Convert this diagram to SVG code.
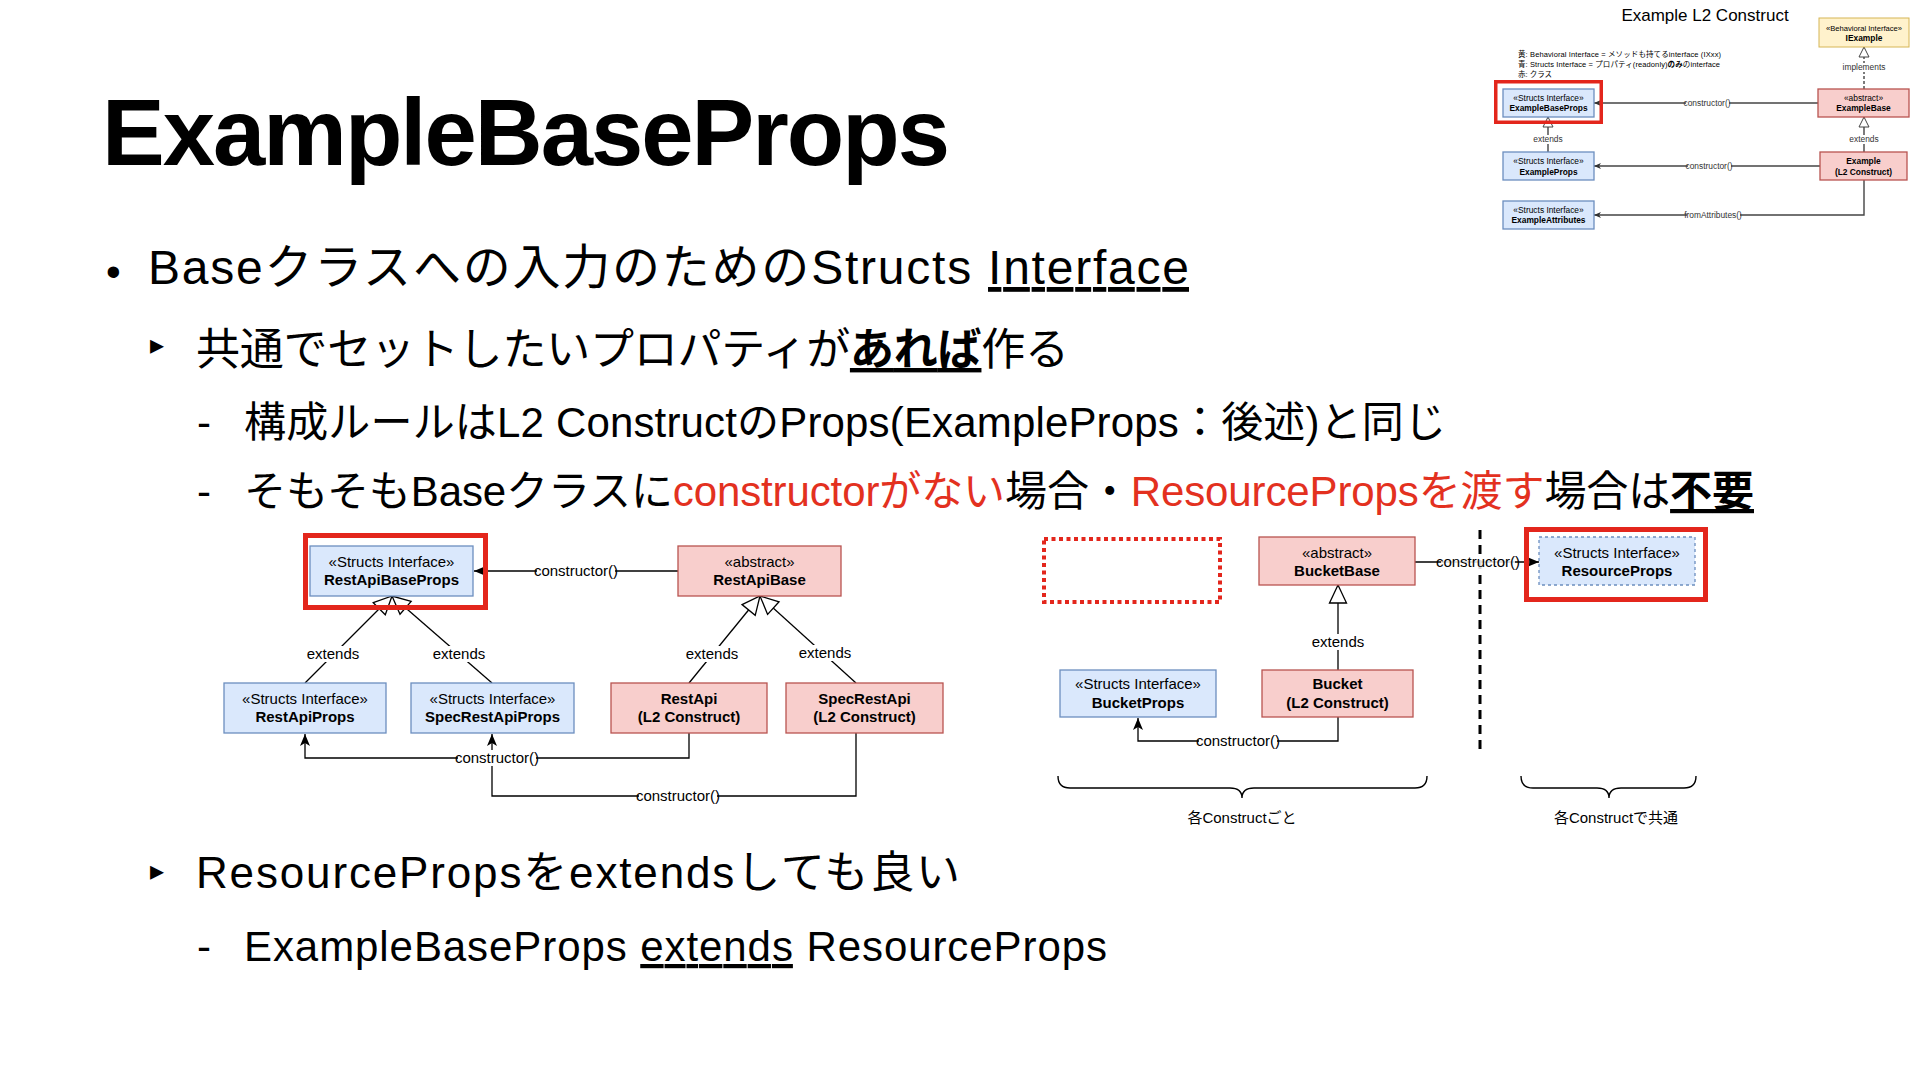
<svg xmlns="http://www.w3.org/2000/svg" width="1920" height="1080" viewBox="0 0 1920 1080">
<style>
text{font-family:"Liberation Sans","Noto Sans CJK JP",sans-serif;fill:#000}
.body{font-size:42px}
.red{fill:#e3311f}
.dg text{font-size:15px;text-anchor:middle}
.dg .b{font-weight:bold}
.blue{fill:#dae8fc;stroke:#6c8ebf;stroke-width:1.3}
.pink{fill:#f8cecc;stroke:#b85450;stroke-width:1.3}
.yel{fill:#fff2cc;stroke:#d6b656;stroke-width:1}
.hl{fill:none;stroke:#e3261c}
.edge{fill:none;stroke:#000;stroke-width:1.3}
.lbl{font-size:14px;text-anchor:middle}
.lblbg{fill:#fff}
.mini text{font-size:8.4px;text-anchor:middle}
.mini .b{font-weight:bold}
.medge{fill:none;stroke:#444;stroke-width:1.4}
.mlbl{font-size:7px;text-anchor:middle;fill:#333}
</style>
<defs>
<marker id="arr" markerUnits="userSpaceOnUse" markerWidth="14" markerHeight="12" refX="12" refY="5" orient="auto" overflow="visible"><path d="M0,0 L12,5 L0,10 L3,5 z" fill="#000"/></marker>
<marker id="tri" markerUnits="userSpaceOnUse" markerWidth="20" markerHeight="20" refX="18" refY="9" orient="auto" overflow="visible"><path d="M0,0.5 L18,9 L0,17.5 z" fill="#fff" stroke="#000" stroke-width="1.3"/></marker>
<marker id="arrM" markerUnits="userSpaceOnUse" markerWidth="8" markerHeight="8" refX="7" refY="3" orient="auto" overflow="visible"><path d="M0,0 L7,3 L0,6 L2,3 z" fill="#333"/></marker>
<marker id="triM" markerUnits="userSpaceOnUse" markerWidth="12" markerHeight="12" refX="10" refY="5" orient="auto" overflow="visible"><path d="M0,0 L10,5 L0,10 z" fill="#fff" stroke="#444" stroke-width="1"/></marker>
</defs>
<rect x="0" y="0" width="1920" height="1080" fill="#fff"/>

<g id="title">
<text x="102" y="165" font-size="94" font-weight="bold" textLength="848" lengthAdjust="spacing">ExampleBaseProps</text>
</g>

<g id="body-text" class="body">
<text x="106" y="286" font-size="42">•</text>
<text x="148" y="284" font-size="48" textLength="1041">Baseクラスへの入力のためのStructs <tspan text-decoration="underline">Interface</tspan></text>
<text x="150" y="354" style="font-family:'DejaVu Sans',sans-serif" font-size="28">▸</text>
<text x="196" y="365" font-size="44" textLength="873">共通でセットしたいプロパティが<tspan font-weight="bold" text-decoration="underline">あれば</tspan>作る</text>
<text x="197" y="437">-</text>
<text x="244" y="437" textLength="1202">構成ルールはL2 ConstructのProps(ExampleProps：後述)と同じ</text>
<text x="197" y="506">-</text>
<text x="244" y="506" textLength="1510">そもそもBaseクラスに<tspan class="red">constructorがない</tspan>場合・<tspan class="red">ResourcePropsを渡す</tspan>場合は<tspan font-weight="bold" text-decoration="underline">不要</tspan></text>
<text x="150" y="880" style="font-family:'DejaVu Sans',sans-serif" font-size="28">▸</text>
<text x="196" y="888" font-size="44" textLength="764">ResourcePropsをextendsしても良い</text>
<text x="197" y="961">-</text>
<text x="244" y="961" textLength="863">ExampleBaseProps <tspan text-decoration="underline">extends</tspan> ResourceProps</text>
</g>

<!-- Left diagram -->
<g id="diagram-left" class="dg">
<g id="connectors-left">
<path class="edge" d="M678,571 H474" marker-end="url(#arr)"/>
<path class="edge" d="M305,683 L392,596" marker-end="url(#tri)"/>
<path class="edge" d="M492,683 L392,596" marker-end="url(#tri)"/>
<path class="edge" d="M689,683 L760,596" marker-end="url(#tri)"/>
<path class="edge" d="M856,683 L760,596" marker-end="url(#tri)"/>
<path class="edge" d="M689,733 V758 H305 V734" marker-end="url(#arr)"/>
<path class="edge" d="M856,733 V796 H492 V734" marker-end="url(#arr)"/>
<rect class="lblbg" x="537" y="563" width="78" height="16"/>
<text class="lbl" x="576" y="576">constructor()</text>
<rect class="lblbg" x="309" y="646" width="49" height="16"/>
<text class="lbl" x="333" y="659">extends</text>
<rect class="lblbg" x="435" y="646" width="49" height="16"/>
<text class="lbl" x="459" y="659">extends</text>
<rect class="lblbg" x="688" y="646" width="49" height="16"/>
<text class="lbl" x="712" y="659">extends</text>
<rect class="lblbg" x="801" y="645" width="49" height="16"/>
<text class="lbl" x="825" y="658">extends</text>
<rect class="lblbg" x="458" y="750" width="78" height="16"/>
<text class="lbl" x="497" y="763">constructor()</text>
<rect class="lblbg" x="639" y="788" width="78" height="16"/>
<text class="lbl" x="678" y="801">constructor()</text>
</g>
<g id="node-restapibaseprops">
<rect class="blue" x="310" y="546" width="163" height="50"/>
<text x="391.5" y="567">«Structs Interface»</text>
<text class="b" x="391.5" y="585">RestApiBaseProps</text>
</g>
<rect id="highlight-restapibaseprops" class="hl" x="305.5" y="535.5" width="180" height="72" stroke-width="5"/>
<g id="node-restapibase">
<rect class="pink" x="678" y="546" width="163" height="50"/>
<text x="759.5" y="567">«abstract»</text>
<text class="b" x="759.5" y="585">RestApiBase</text>
</g>
<g id="node-restapiprops">
<rect class="blue" x="224" y="683" width="162" height="50"/>
<text x="305" y="704">«Structs Interface»</text>
<text class="b" x="305" y="722">RestApiProps</text>
</g>
<g id="node-specrestapiprops">
<rect class="blue" x="411" y="683" width="163" height="50"/>
<text x="492.5" y="704">«Structs Interface»</text>
<text class="b" x="492.5" y="722">SpecRestApiProps</text>
</g>
<g id="node-restapi">
<rect class="pink" x="611" y="683" width="156" height="50"/>
<text class="b" x="689" y="704">RestApi</text>
<text class="b" x="689" y="722">(L2 Construct)</text>
</g>
<g id="node-specrestapi">
<rect class="pink" x="786" y="683" width="157" height="50"/>
<text class="b" x="864.5" y="704">SpecRestApi</text>
<text class="b" x="864.5" y="722">(L2 Construct)</text>
</g>
</g>

<!-- Right diagram -->
<g id="diagram-right" class="dg">
<rect id="placeholder-dotted" x="1044" y="539" width="176" height="63" fill="none" stroke="#e3261c" stroke-width="4" stroke-dasharray="4 3.5"/>
<g id="connectors-right">
<path d="M1480,530 V753" fill="none" stroke="#000" stroke-width="3" stroke-dasharray="9 6"/>
<path class="edge" d="M1415,562 H1539" marker-end="url(#arr)"/>
<path class="edge" d="M1338,670 V585" marker-end="url(#tri)"/>
<path class="edge" d="M1338,717 V741 H1138 V718" marker-end="url(#arr)"/>
<rect class="lblbg" x="1441" y="554" width="74" height="16" fill-opacity="0.85"/>
<text class="lbl" x="1478" y="567">constructor()</text>
<rect class="lblbg" x="1313" y="634" width="50" height="16"/>
<text class="lbl" x="1338" y="647">extends</text>
<rect class="lblbg" x="1199" y="733" width="78" height="16"/>
<text class="lbl" x="1238" y="746">constructor()</text>
<path d="M1058,776 Q1058,788 1070,788 H1230 Q1242,788 1242,798 Q1242,788 1254,788 H1415 Q1427,788 1427,776" fill="none" stroke="#000" stroke-width="1.4"/>
<path d="M1521,776 Q1521,788 1533,788 H1597 Q1609,788 1609,798 Q1609,788 1621,788 H1684 Q1696,788 1696,776" fill="none" stroke="#000" stroke-width="1.4"/>
</g>
<g id="node-bucketbase">
<rect class="pink" x="1259" y="537" width="156" height="48"/>
<text x="1337" y="558">«abstract»</text>
<text class="b" x="1337" y="576">BucketBase</text>
</g>
<g id="node-resourceprops">
<rect x="1539" y="537" width="156" height="48" fill="#dae8fc" stroke="#6c8ebf" stroke-width="1.3" stroke-dasharray="3 3"/>
<text x="1617" y="558">«Structs Interface»</text>
<text class="b" x="1617" y="576">ResourceProps</text>
</g>
<rect id="highlight-resourceprops" class="hl" x="1526.5" y="529.5" width="179" height="70" stroke-width="5"/>
<g id="node-bucket">
<rect class="pink" x="1262" y="670" width="151" height="47"/>
<text class="b" x="1337.5" y="689">Bucket</text>
<text class="b" x="1337.5" y="708">(L2 Construct)</text>
</g>
<g id="node-bucketprops">
<rect class="blue" x="1060" y="670" width="156" height="47"/>
<text x="1138" y="689">«Structs Interface»</text>
<text class="b" x="1138" y="708">BucketProps</text>
</g>
<text class="lbl" x="1242" y="823">各Constructごと</text>
<text class="lbl" x="1616" y="823">各Constructで共通</text>
</g>

<!-- Top-right mini diagram -->
<g id="diagram-mini" class="mini">
<text x="1705" y="21" style="font-size:17px">Example L2 Construct</text>
<text x="1518" y="57" style="font-size:7.5px;text-anchor:start" textLength="203">黄: Behavioral Interface = メソッドも持てるinterface (IXxx)</text>
<text x="1518" y="67" style="font-size:7.5px;text-anchor:start" textLength="202">青: Structs Interface = プロパティ(readonly)<tspan font-weight="bold">のみ</tspan>のinterface</text>
<text x="1518" y="77" style="font-size:7.5px;text-anchor:start">赤: クラス</text>
<g id="connectors-mini">
<path class="medge" d="M1864,89 V47" stroke-dasharray="3 2" marker-end="url(#triM)"/>
<path class="medge" d="M1818,103 H1594" marker-end="url(#arrM)"/>
<path class="medge" d="M1864,152 V117" marker-end="url(#triM)"/>
<path class="medge" d="M1548,152 V117" marker-end="url(#triM)"/>
<path class="medge" d="M1820,166 H1594" marker-end="url(#arrM)"/>
<path class="medge" d="M1864,180 V215 H1594" marker-end="url(#arrM)"/>
<rect class="lblbg" x="1842" y="63" width="44" height="9"/>
<text class="mlbl" x="1864" y="70">implements</text>
<rect class="lblbg" x="1686" y="99" width="43" height="9"/>
<text class="mlbl" x="1707" y="106">constructor()</text>
<rect class="lblbg" x="1850" y="135" width="28" height="9"/>
<text class="mlbl" x="1864" y="142">extends</text>
<rect class="lblbg" x="1534" y="135" width="28" height="9"/>
<text class="mlbl" x="1548" y="142">extends</text>
<rect class="lblbg" x="1688" y="162" width="43" height="9"/>
<text class="mlbl" x="1709" y="169">constructor()</text>
<rect class="lblbg" x="1687" y="211" width="53" height="9"/>
<text class="mlbl" x="1713" y="218">fromAttributes()</text>
</g>
<g id="mini-iexample">
<rect class="yel" x="1819" y="18" width="90" height="29"/>
<text x="1864" y="31" style="font-size:7.6px">«Behavioral Interface»</text>
<text class="b" x="1864" y="41">IExample</text>
</g>
<g id="mini-examplebaseprops">
<rect class="blue" x="1503" y="89" width="91" height="28" stroke-width="1"/>
<text x="1548.5" y="101">«Structs Interface»</text>
<text class="b" x="1548.5" y="111">ExampleBaseProps</text>
</g>
<rect id="mini-highlight" class="hl" x="1495.75" y="81.75" width="105.5" height="40.5" stroke-width="3.5"/>
<g id="mini-examplebase">
<rect class="pink" x="1818" y="89" width="91" height="28" stroke-width="1"/>
<text x="1863.5" y="101">«abstract»</text>
<text class="b" x="1863.5" y="111">ExampleBase</text>
</g>
<g id="mini-example">
<rect class="pink" x="1820" y="152" width="87" height="28" stroke-width="1"/>
<text class="b" x="1863.5" y="164">Example</text>
<text class="b" x="1863.5" y="175">(L2 Construct)</text>
</g>
<g id="mini-exampleprops">
<rect class="blue" x="1503" y="152" width="91" height="28" stroke-width="1"/>
<text x="1548.5" y="164">«Structs Interface»</text>
<text class="b" x="1548.5" y="175">ExampleProps</text>
</g>
<g id="mini-exampleattributes">
<rect class="blue" x="1503" y="201" width="91" height="28" stroke-width="1"/>
<text x="1548.5" y="213">«Structs Interface»</text>
<text class="b" x="1548.5" y="223">ExampleAttributes</text>
</g>
</g>
</svg>
